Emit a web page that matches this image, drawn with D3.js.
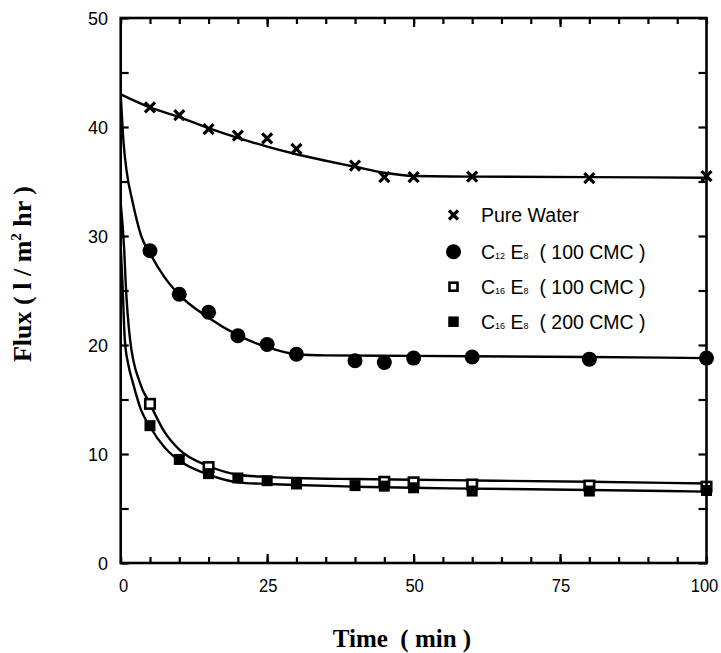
<!DOCTYPE html>
<html>
<head>
<meta charset="utf-8">
<script src="https://cdn.jsdelivr.net/npm/d3@7/dist/d3.min.js"></script>
<style>
  html, body { margin: 0; padding: 0; background: #fff; }
  svg { display: block; }
</style>
</head>
<body>
<svg id="chart" width="721" height="653"></svg>
<script>
// ---------------- DATA ----------------
const xTicksMajor = [0, 25, 50, 75, 100];
const yTicksMajor = [0, 10, 20, 30, 40, 50];

// measured points
const pureWaterPts = [
  [5, 41.8], [10, 41.1], [15, 39.8], [20, 39.2], [25, 38.95], [30, 38.0],
  [40, 36.45], [45, 35.4], [50, 35.4], [60, 35.45], [80, 35.3], [100, 35.5]
];
const c12e8Pts = [
  [5, 28.65], [10, 24.65], [15, 23.0], [20, 20.85], [25, 20.05], [30, 19.15],
  [40, 18.55], [45, 18.4], [50, 18.8], [60, 18.9], [80, 18.7], [100, 18.8]
];
const c16e8_100Pts = [
  [5, 14.6], [15, 8.8], [45, 7.45], [50, 7.4], [60, 7.2], [80, 7.1], [100, 7.0]
];
const c16e8_200Pts = [
  [5, 12.6], [10, 9.5], [15, 8.2], [20, 7.8], [25, 7.55], [30, 7.25],
  [40, 7.1], [45, 7.05], [50, 6.9], [60, 6.6], [80, 6.6], [100, 6.65]
];

// fitted curves
const pureWaterCurve = [
  [0, 43.0], [5, 41.8], [10, 40.9], [15, 39.9], [20, 39.0], [25, 38.2], [30, 37.5],
  [35, 36.9], [40, 36.35], [45, 35.8], [50, 35.5], [60, 35.45], [80, 35.4], [100, 35.35]
];
const c12e8Curve = [
  [0, 43.0], [0.5, 38.5], [1, 36.0], [2, 33.2], [3.5, 30.0], [5, 28.4], [7.5, 26.2],
  [10, 24.6], [15, 22.5], [20, 20.9], [25, 19.8], [30, 19.15], [35, 19.05],
  [50, 19.0], [80, 18.9], [100, 18.8]
];
const c16e8_100Curve = [
  [0, 33.0], [0.6, 28.7], [0.85, 25.7], [1.6, 20.5], [3.3, 16.5], [5, 14.6],
  [7.5, 12.0], [10, 10.4], [15, 8.9], [20, 8.1], [25, 7.9], [30, 7.8], [40, 7.7],
  [56, 7.6], [80, 7.45], [100, 7.3]
];
const c16e8_200Curve = [
  [0, 29.0], [0.3, 25.7], [0.7, 20.5], [1.3, 18.2], [2.1, 16.5], [3.5, 14.0],
  [5, 12.5], [7.5, 10.6], [10, 9.4], [15, 8.1], [20, 7.4], [25, 7.25], [30, 7.15],
  [40, 7.0], [56, 6.85], [80, 6.7], [100, 6.55]
];

const legendItems = [
  { key: "pure", label: [["Pure Water", 0]] },
  { key: "c12", label: [["C", 0], ["12", 1], [" E", 0], ["8", 1], ["  ( 100 CMC )", 0]] },
  { key: "c16a", label: [["C", 0], ["16", 1], [" E", 0], ["8", 1], ["  ( 100 CMC )", 0]] },
  { key: "c16b", label: [["C", 0], ["16", 1], [" E", 0], ["8", 1], ["  ( 200 CMC )", 0]] }
];

// ---------------- CHART ----------------
(function () {
const svg = d3.select("#chart");
const L = 120.7, R = 706.5, T = 18, B = 563;
const x = d3.scaleLinear().domain([0, 100]).range([L, R]);
const y = d3.scaleLinear().domain([0, 50]).range([B, T]);

const sansFont = "'Liberation Sans', Arial, Helvetica, sans-serif";
const serifFont = "'Liberation Serif', 'Times New Roman', serif";

// curves
const line = d3.line().x(d => x(d[0])).y(d => y(d[1])).curve(d3.curveMonotoneX);
svg.append("defs").append("clipPath").attr("id", "clip")
  .append("rect").attr("x", L).attr("y", T).attr("width", R - L).attr("height", B - T);
const gCurves = svg.append("g").attr("clip-path", "url(#clip)");
[pureWaterCurve, c12e8Curve, c16e8_100Curve, c16e8_200Curve].forEach(c => {
  gCurves.append("path").datum(c).attr("d", line)
    .attr("fill", "none").attr("stroke", "#000").attr("stroke-width", 2.4);
});

// markers
function drawX(g, cx, cy, s) {
  g.append("path")
    .attr("d", `M${cx - s},${cy - s}L${cx + s},${cy + s}M${cx - s},${cy + s}L${cx + s},${cy - s}`)
    .attr("stroke", "#000").attr("stroke-width", 3.2).attr("fill", "none");
}
function drawCircle(g, cx, cy, r) {
  g.append("circle").attr("cx", cx).attr("cy", cy).attr("r", r).attr("fill", "#000");
}
function drawOpenSq(g, cx, cy, s) {
  g.append("rect").attr("x", cx - s / 2).attr("y", cy - s / 2).attr("width", s).attr("height", s)
    .attr("fill", "#fff").attr("stroke", "#000").attr("stroke-width", 2.6);
}
function drawFilledSq(g, cx, cy, s) {
  g.append("rect").attr("x", cx - s / 2).attr("y", cy - s / 2).attr("width", s).attr("height", s)
    .attr("fill", "#000");
}

const gm = svg.append("g");
pureWaterPts.forEach(d => drawX(gm, x(d[0]), y(d[1]), 5));
c12e8Pts.forEach(d => drawCircle(gm, x(d[0]), y(d[1]), 7.5));
c16e8_100Pts.forEach(d => drawOpenSq(gm, x(d[0]), y(d[1]), 9.5));
c16e8_200Pts.forEach(d => drawFilledSq(gm, x(d[0]), y(d[1]), 11));

// axes (frame with inward ticks)
const xMinor = d3.range(0, 101, 5);
const yMinor = d3.range(0, 51, 5);
const ax = svg.append("g");
ax.append("rect").attr("x", L).attr("y", T).attr("width", R - L).attr("height", B - T)
  .attr("fill", "none").attr("stroke", "#000").attr("stroke-width", 2.6);

function styleAxis(g) {
  g.select(".domain").remove();
  g.selectAll(".tick line").attr("stroke", "#000").attr("stroke-width", 2.2);
}
ax.append("g").attr("transform", `translate(0,${B})`)
  .call(d3.axisBottom(x).tickValues(xMinor).tickSize(-6).tickFormat("")).call(styleAxis);
ax.append("g").attr("transform", `translate(0,${T})`)
  .call(d3.axisTop(x).tickValues(xMinor).tickSize(-6).tickFormat("")).call(styleAxis);
ax.append("g").attr("transform", `translate(${L},0)`)
  .call(d3.axisLeft(y).tickValues(yMinor).tickSize(-8).tickFormat("")).call(styleAxis);
ax.append("g").attr("transform", `translate(${R},0)`)
  .call(d3.axisRight(y).tickValues(yMinor).tickSize(-8).tickFormat("")).call(styleAxis);
ax.append("g").attr("transform", `translate(0,${B})`)
  .call(d3.axisBottom(x).tickValues(xTicksMajor.slice(1, 4)).tickSize(-9).tickFormat("")).call(styleAxis);
ax.append("g").attr("transform", `translate(0,${T})`)
  .call(d3.axisTop(x).tickValues(xTicksMajor.slice(1, 4)).tickSize(-9).tickFormat("")).call(styleAxis);

// tick labels
const lab = svg.append("g").attr("font-family", sansFont).attr("font-size", 18).attr("fill", "#000");
xTicksMajor.forEach(v => {
  const dx = v === 0 ? 3 : (v === 100 ? -2 : 1);
  lab.append("text").attr("x", x(v) + dx).attr("y", 592)
    .attr("text-anchor", "middle").attr("textLength", String(v).length * 9.2)
    .attr("lengthAdjust", "spacingAndGlyphs").text(v);
});
yTicksMajor.forEach(v => {
  lab.append("text").attr("x", 108).attr("y", y(v) + 6.5)
    .attr("text-anchor", "end").text(v);
});

// axis titles
svg.append("text").attr("x", 402).attr("y", 647)
  .attr("text-anchor", "middle").attr("font-family", serifFont)
  .attr("font-weight", "bold").attr("font-size", 25)
  .style("white-space", "pre")
  .text("Time  ( min )");

const yt = svg.append("text")
  .attr("transform", "translate(31,274) rotate(-90)")
  .attr("text-anchor", "middle").attr("font-family", serifFont)
  .attr("font-weight", "bold").attr("font-size", 26).style("white-space", "pre");
yt.append("tspan").text("Flux ( l / m");
yt.append("tspan").attr("font-size", 15).attr("dy", -10).text("2");
yt.append("tspan").attr("dy", 10).text(" hr )");

// legend
const legY = [215, 251.7, 286.7, 321.7];
const gl = svg.append("g");
legendItems.forEach((it, i) => {
  const cy = legY[i], cx = 453.5;
  if (it.key === "pure") drawX(gl, cx, cy, 4.5);
  if (it.key === "c12") drawCircle(gl, cx, cy, 7.5);
  if (it.key === "c16a") drawOpenSq(gl, cx, cy, 8);
  if (it.key === "c16b") drawFilledSq(gl, cx, cy, 10.5);
  const t = gl.append("text").attr("x", 481).attr("y", cy + 7)
    .attr("font-family", sansFont).attr("font-size", 19.5).style("white-space", "pre");
  it.label.forEach(([s, sub]) => {
    t.append("tspan").attr("font-size", sub ? 9 : 19.5).text(s);
  });
});
})();
</script>
</body>
</html>
